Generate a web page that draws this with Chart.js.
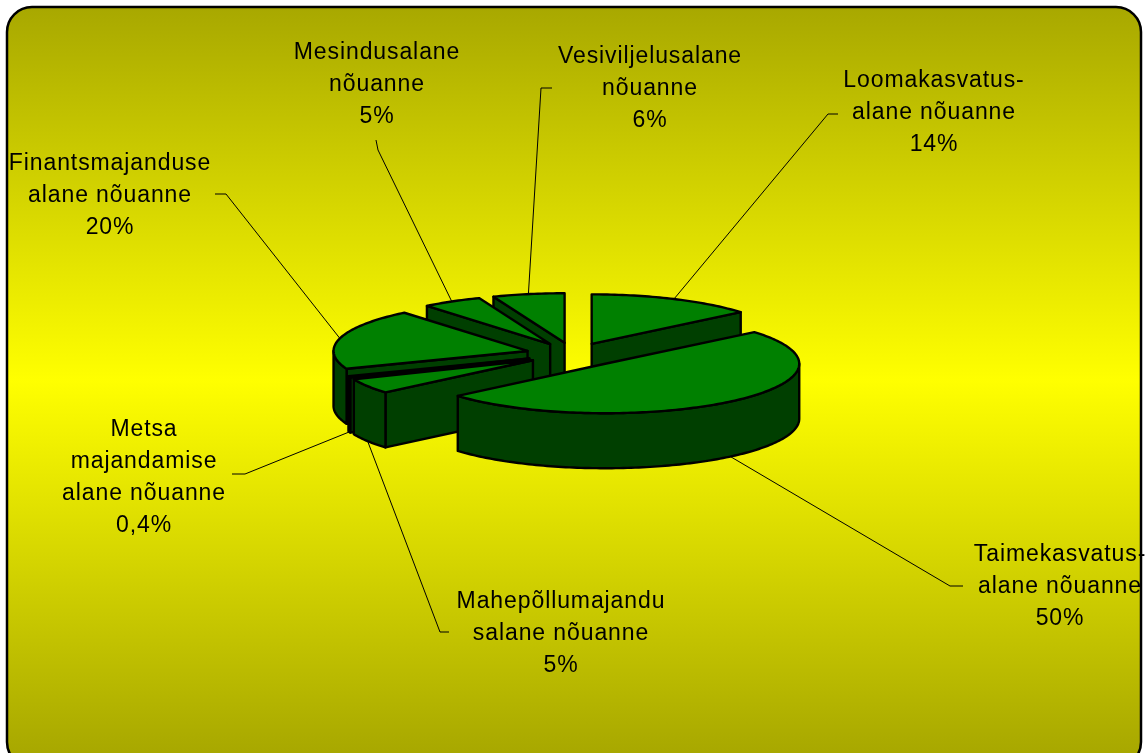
<!DOCTYPE html>
<html>
<head>
<meta charset="utf-8">
<title>Nõuanne</title>
<style>
  html, body { margin: 0; padding: 0; background: #fff; overflow: hidden; }
  canvas { display: block; }
</style>
<script src="https://cdn.jsdelivr.net/npm/chart.js@4/dist/chart.umd.min.js"></script>
</head>
<body>
<canvas id="graph" width="1146" height="753"></canvas>
<script>
const categories = [
  ["Loomakasvatus-", "alane nõuanne"],
  ["Taimekasvatus-", "alane nõuanne"],
  ["Mahepõllumajandu", "salane nõuanne"],
  ["Metsa", "majandamise", "alane nõuanne"],
  ["Finantsmajanduse", "alane nõuanne"],
  ["Mesindusalane", "nõuanne"],
  ["Vesiviljelusalane", "nõuanne"]
];
const shares = [14, 50, 5, 0.4, 20, 5, 6];

// where each text block and its leader elbow sit, same order as categories
const labelPlaces = [
  { x: 934, y: 81, elbow: [[828, 114], [838, 114]] },
  { x: 1060, y: 555, elbow: [[950, 586], [963, 586]] },
  { x: 561, y: 602, elbow: [[440, 632], [449, 632]] },
  { x: 144, y: 430, elbow: [[245, 474], [232, 474]] },
  { x: 110, y: 164, elbow: [[226, 194], [215, 194]] },
  { x: 377, y: 53, elbow: [[378, 150], [376, 140]] },
  { x: 650, y: 57, elbow: [[541, 88], [552, 88]] }
];

const squash = 0.255;  // ellipse height / width
const pull = [44, 50, 47, 47, 47, 45, 45]; // how far each slice is pulled out
const depth = 55;      // wall height
const topColor = "#008000";
const wallColor = "#003f00";
const drawOrder = [0, 6, 5, 4, 3, 2, 1]; // back to front

function rimPoint(el, angle, r, drop) {
  const mid = (el.startAngle + el.endAngle) / 2;
  return [
    el.x + Math.cos(mid) * el.pull + Math.cos(angle) * r,
    el.y + squash * (Math.sin(mid) * el.pull + Math.sin(angle) * r) + (drop || 0)
  ];
}

function tracePoints(ctx, pts) {
  ctx.beginPath();
  pts.forEach((p, i) => i ? ctx.lineTo(p[0], p[1]) : ctx.moveTo(p[0], p[1]));
  ctx.closePath();
}

function paintFace(ctx, pts, fill) {
  tracePoints(ctx, pts);
  if (fill) {
    ctx.fillStyle = fill;
    ctx.fill();
  }
  ctx.stroke();
}

function arcPoints(el, from, to, drop) {
  const pts = [];
  const steps = Math.max(2, Math.ceil((to - from) / 0.02));
  for (let i = 0; i <= steps; i++) {
    pts.push(rimPoint(el, from + (to - from) * i / steps, el.outerRadius, drop));
  }
  return pts;
}

function radialWall(ctx, el, angle) {
  const a = rimPoint(el, angle, 0);
  const b = rimPoint(el, angle, el.outerRadius);
  paintFace(ctx, [a, b, [b[0], b[1] + depth], [a[0], a[1] + depth]], wallColor);
}

function drawSlice(ctx, el) {
  const a = el.startAngle, b = el.endAngle;
  const mid = (a + b) / 2;
  ctx.strokeStyle = "#000";
  ctx.lineWidth = 2.4;
  ctx.lineJoin = "round";

  if (-Math.cos(a) > 0.001) radialWall(ctx, el, a);
  if (Math.cos(b) > 0.001) radialWall(ctx, el, b);

  const lo = Math.max(a, 0), hi = Math.min(b, Math.PI);
  if (hi > lo) {
    const rim = arcPoints(el, lo, hi, 0).concat(arcPoints(el, lo, hi, depth).reverse());
    paintFace(ctx, rim, wallColor);
  }

  // top face goes through the arc element itself, squashed
  ctx.save();
  ctx.translate(el.x, el.y);
  ctx.scale(1, squash);
  ctx.translate(-el.x + Math.cos(mid) * el.pull, -el.y + Math.sin(mid) * el.pull);
  el.draw(ctx);
  ctx.restore();

  paintFace(ctx, [rimPoint(el, a, 0)].concat(arcPoints(el, a, b, 0)), null);
}

const pie3d = {
  id: "pie3d",
  beforeDraw(chart) {
    const ctx = chart.ctx;
    const g = ctx.createLinearGradient(0, 7, 0, 752);
    g.addColorStop(0, "#a8a800");
    g.addColorStop(0.5, "#ffff00");
    g.addColorStop(1, "#a8a800");
    ctx.save();
    ctx.beginPath();
    ctx.roundRect(7, 7, 1134, 760, 25);
    ctx.fillStyle = g;
    ctx.fill();
    ctx.strokeStyle = "#000";
    ctx.lineWidth = 2.5;
    ctx.stroke();
    ctx.restore();
  },
  beforeDatasetsDraw(chart) {
    const ctx = chart.ctx;
    const arcs = chart.getDatasetMeta(0).data;
    arcs.forEach((el, i) => { el.pull = pull[i]; });

    // leader lines sit behind the pie
    ctx.save();
    ctx.strokeStyle = "#000";
    ctx.lineWidth = 1;
    arcs.forEach((el, i) => {
      const mid = (el.startAngle + el.endAngle) / 2;
      const from = rimPoint(el, mid, el.outerRadius, Math.sin(mid) > 0 ? depth : 0);
      const [knee, end] = labelPlaces[i].elbow;
      ctx.beginPath();
      ctx.moveTo(from[0], from[1]);
      ctx.lineTo(knee[0], knee[1]);
      ctx.lineTo(end[0], end[1]);
      ctx.stroke();
    });
    ctx.restore();

    ctx.save();
    drawOrder.forEach(i => drawSlice(ctx, arcs[i]));
    ctx.restore();
    return false;
  },
  afterDraw(chart) {
    const ctx = chart.ctx;
    ctx.save();
    ctx.font = '23px "Liberation Sans"';
    ctx.letterSpacing = "0.9px";
    ctx.fillStyle = "#000";
    ctx.textAlign = "center";
    ctx.textBaseline = "middle";
    categories.forEach((lines, i) => {
      const place = labelPlaces[i];
      const text = lines.concat([String(shares[i]).replace(".", ",") + "%"]);
      text.forEach((line, j) => ctx.fillText(line, place.x, place.y + j * 32));
    });
    ctx.restore();
  }
};

new Chart(document.getElementById("graph"), {
  type: "pie",
  data: {
    labels: categories.map(c => c.join(" ")),
    datasets: [{
      data: shares,
      backgroundColor: topColor,
      borderWidth: 0,
      radius: 194
    }]
  },
  options: {
    responsive: false,
    animation: false,
    layout: { padding: { bottom: 45 } },
    plugins: { legend: { display: false }, tooltip: { enabled: false } }
  },
  plugins: [pie3d]
});
</script>
</body>
</html>
